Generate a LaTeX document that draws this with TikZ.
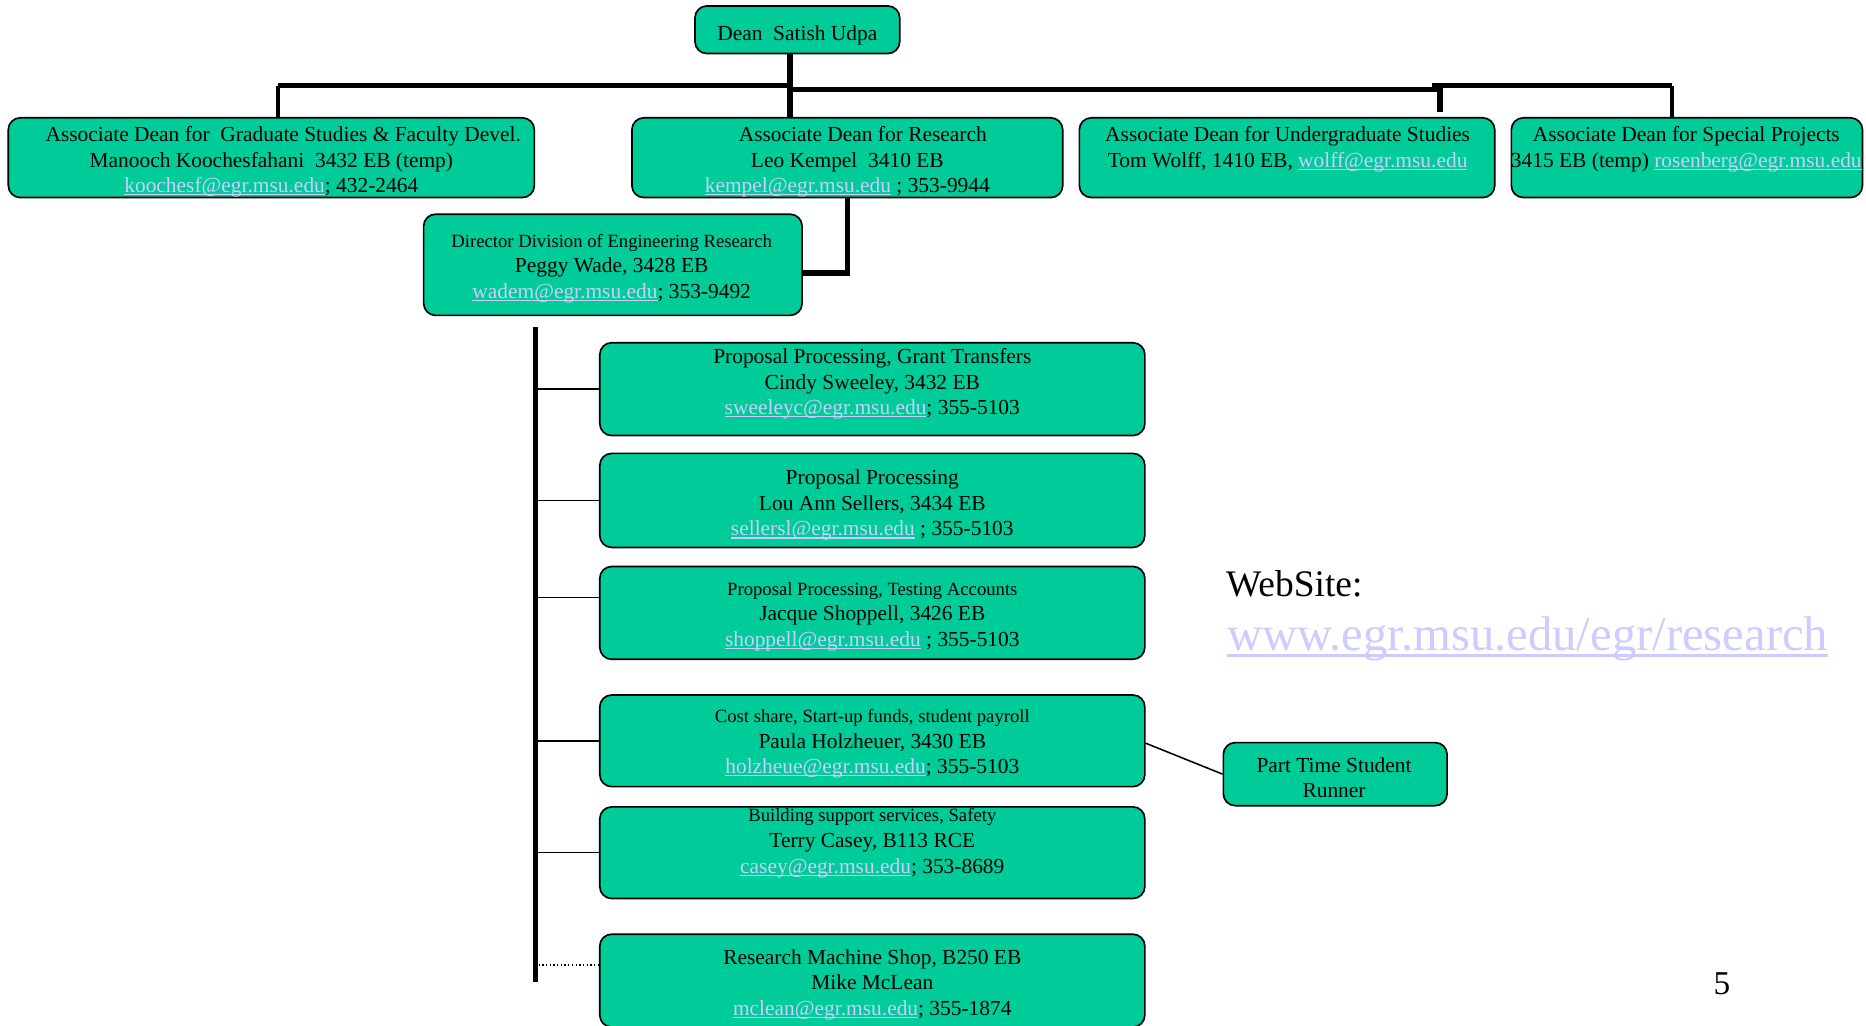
\documentclass[tikz,border=0pt]{standalone}
\usepackage{fontspec}
\setmainfont{Liberation Serif}
\definecolor{boxgreen}{RGB}{0,204,153}
\definecolor{linkc}{RGB}{204,204,255}
\newcommand\ulink[1]{{\color{linkc}\setbox0\hbox{#1}\rlap{\rule[-0.13em]{\wd0}{0.06em}}\box0}}
\newcommand\smallline[1]{{\fontsize{15.7}{18}\selectfont #1}}
\begin{document}
\begin{tikzpicture}[x=1pt,y=-1pt,
  box/.style={draw=black,line width=1.4pt,fill=boxgreen,rounded corners=10pt,inner sep=0pt},
  txt/.style={align=center,inner sep=0pt,font=\fontsize{18}{21.5}\selectfont},
  busline/.style={line width=4.6pt},
  medline/.style={line width=3.4pt},
  linkline/.style={line width=1.3pt},
  dotline/.style={line width=1.1pt,dotted}]
\useasboundingbox (0,0) rectangle (1568,862);
\clip (0,0) rectangle (1568,862);
\fill[white] (0,0) rectangle (1568,862);

% coordinates of the bus lines
\coordinate (busL) at (234,72);
\coordinate (busM) at (664,72);
\coordinate (busMr) at (664,75);
\coordinate (busR) at (1210,75);
\coordinate (busRt) at (1203,72);
\coordinate (busRe) at (1405,72);
\coordinate (stubR) at (1210,94);
\coordinate (vtop) at (450,275);
\coordinate (vbot) at (450,825);
\coordinate (dirjoin) at (712,229.5);

% boxes
\node[box,minimum width=172pt,minimum height=40pt] (dean) at (670,25) {};
\node[box,minimum width=442pt,minimum height=67pt] (grad) at (228,132.5) {};
\node[box,minimum width=362pt,minimum height=67pt] (research) at (712,132.5) {};
\node[box,minimum width=349pt,minimum height=67pt] (ugrad) at (1081.5,132.5) {};
\node[box,minimum width=295pt,minimum height=67pt] (special) at (1417.5,132.5) {};
\node[box,minimum width=318pt,minimum height=85pt] (director) at (515,222.5) {};
\node[box,minimum width=458pt,minimum height=78pt] (s1) at (733,327) {};
\node[box,minimum width=458pt,minimum height=79pt] (s2) at (733,420.5) {};
\node[box,minimum width=458pt,minimum height=78pt] (s3) at (733,515) {};
\node[box,minimum width=458pt,minimum height=77pt] (s4) at (733,622.5) {};
\node[box,minimum width=458pt,minimum height=77pt] (s5) at (733,716.5) {};
\node[box,minimum width=458pt,minimum height=78pt] (s6) at (733,824) {};
\node[box,minimum width=188pt,minimum height=53pt] (runner) at (1122,650.5) {};

% connectors
\draw[busline] (dean.south -| busM) -- (research.north -| busM);
\draw[busline] (busL) -- (busM);
\draw[busline] (busMr) -- (busR);
\draw[busline] (busRt) -- (busRe);
\draw[busline] (busRt -| busR) -- (stubR);
\draw[medline] (busL) -- (grad.north -| busL);
\draw[medline] (busRe) -- (special.north -| busRe);
\draw[busline] (research.south -| dirjoin) -- (dirjoin) -- (director.east |- dirjoin);
\draw[busline] (vtop) -- (vbot);
\draw[linkline] (s1.west) -- (s1.west -| vtop);
\draw[linkline] (s2.west) -- (s2.west -| vtop);
\draw[linkline] ([yshift=13pt]s3.west) -- ([yshift=13pt]s3.west -| vtop);
\draw[linkline] (s4.west) -- (s4.west -| vtop);
\draw[linkline] (s5.west) -- (s5.west -| vtop);
\draw[dotline] ([yshift=13pt]s6.west) -- ([yshift=13pt]s6.west -| vtop);
\draw[linkline] ([yshift=-2pt]s4.east) -- (runner.west);

% texts
\node[txt] (dean-t) at (670,30) {Dean~ Satish Udpa};
\node[txt] (grad-t) at (228,136) {\hspace*{20pt}Associate Dean for~ Graduate Studies \& Faculty Devel.\\Manooch Koochesfahani~ 3432 EB (temp)\\\ulink{koochesf@egr.msu.edu}; 432-2464};
\node[txt] (research-t) at (712,136) {\hspace*{26pt}Associate Dean for Research\\Leo Kempel~ 3410 EB\\\ulink{kempel@egr.msu.edu} ; 353-9944};
\node[txt] (ugrad-t) at (1082,125.5) {Associate Dean for Undergraduate Studies\\Tom Wolff, 1410 EB, \ulink{wolff@egr.msu.edu}};
\node[txt] (special-t) at (1417,125.5) {Associate Dean for Special Projects\\3415 EB (temp) \ulink{rosenberg@egr.msu.edu}};
\node[txt] (director-t) at (514,225.5) {\smallline{Director Division of Engineering Research}\\Peggy Wade, 3428 EB\\\ulink{wadem@egr.msu.edu}; 353-9492};
\node[txt] (s1-t) at (733,322.5) {Proposal Processing, Grant Transfers\\Cindy Sweeley, 3432 EB\\\ulink{sweeleyc@egr.msu.edu}; 355-5103};
\node[txt] (s2-t) at (733,424.5) {Proposal Processing\\Lou Ann Sellers, 3434 EB\\\ulink{sellersl@egr.msu.edu} ; 355-5103};
\node[txt] (s3-t) at (733,518) {\smallline{Proposal Processing, Testing Accounts}\\Jacque Shoppell, 3426 EB\\\ulink{shoppell@egr.msu.edu} ; 355-5103};
\node[txt] (s4-t) at (733,625) {\smallline{Cost share, Start-up funds, student payroll}\\Paula Holzheuer, 3430 EB\\\ulink{holzheue@egr.msu.edu}; 355-5103};
\node[txt] (s5-t) at (733,708.5) {\smallline{Building support services, Safety}\\Terry Casey, B113 RCE\\\ulink{casey@egr.msu.edu}; 353-8689};
\node[txt] (s6-t) at (733,827.5) {Research Machine Shop, B250 EB\\Mike McLean\\\ulink{mclean@egr.msu.edu}; 355-1874};
\node[txt] (runner-t) at (1121,653.5) {Part Time Student\\Runner};

\node[anchor=base west,inner sep=0pt,font=\fontsize{31.5}{38}\selectfont] (website) at (1030,501) {WebSite:};
\node[anchor=base west,inner sep=0pt,font=\fontsize{40.9}{49}\selectfont] (url) at (1031,547) {\ulink{www.egr.msu.edu/egr/research}};
\node[anchor=base,inner sep=0pt,font=\fontsize{28}{34}\selectfont] (page) at (1447,836) {5};
\end{tikzpicture}
\end{document}
